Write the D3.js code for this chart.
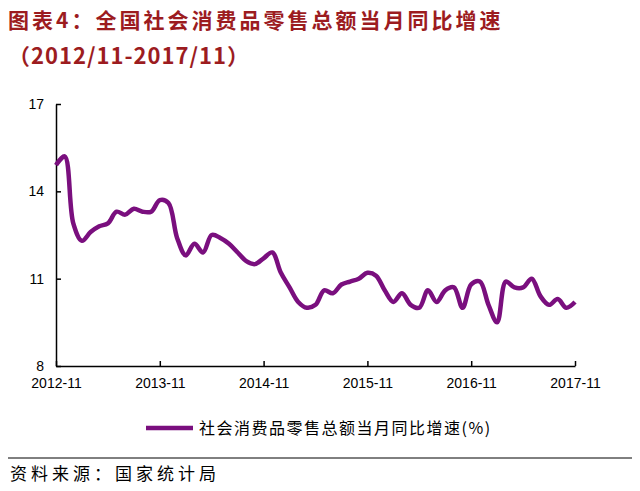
<!DOCTYPE html>
<html><head><meta charset="utf-8">
<script src="https://cdn.jsdelivr.net/npm/d3@7"></script>
<style>body{margin:0;background:#fff}svg{display:block}</style>
</head><body><svg id="c" width="640" height="491"></svg>
<script>
var months=["2012-11","2012-12","2013-01","2013-02","2013-03","2013-04","2013-05","2013-06","2013-07","2013-08","2013-09","2013-10","2013-11","2013-12",
"2014-01","2014-02","2014-03","2014-04","2014-05","2014-06","2014-07","2014-08","2014-09","2014-10","2014-11","2014-12",
"2015-01","2015-02","2015-03","2015-04","2015-05","2015-06","2015-07","2015-08","2015-09","2015-10","2015-11","2015-12",
"2016-01","2016-02","2016-03","2016-04","2016-05","2016-06","2016-07","2016-08","2016-09","2016-10","2016-11","2016-12",
"2017-01","2017-02","2017-03","2017-04","2017-05","2017-06","2017-07","2017-08","2017-09","2017-10","2017-11"]
var values=[14.9,15.2,12.9,12.3,12.6,12.8,12.9,13.3,13.2,13.4,13.3,13.3,13.7,13.6,
12.4,11.8,12.2,11.9,12.5,12.4,12.2,11.9,11.6,11.5,11.7,11.9,
11.2,10.7,10.2,10.0,10.1,10.6,10.5,10.8,10.9,11.0,11.2,11.1,
10.6,10.2,10.5,10.1,10.0,10.6,10.2,10.6,10.7,10.0,10.8,10.9,
10.1,9.5,10.9,10.7,10.7,11.0,10.4,10.1,10.3,10.0,10.2]
var yTicks=[8,11,14,17]
var xTicks=["2012-11","2013-11","2014-11","2015-11","2016-11","2017-11"]
var seriesName="社会消费品零售总额当月同比增速(%)"

var svg=d3.select("#c")
var red="#9c1c1f", purple="#7a0f7e"
svg.append("text").attr("x",8).attr("y",28).attr("fill",red).attr("font-size","21px").attr("font-weight","bold")
.attr("letter-spacing","3px").attr("font-family","Noto Sans CJK SC").text("图表4：全国社会消费品零售总额当月同比增速")
svg.append("text").attr("x",8).attr("y",64).attr("fill",red).attr("font-size","22px").attr("font-weight","bold")
.attr("letter-spacing","1px").attr("font-family","Noto Sans CJK SC").text("（2012/11-2017/11）")

var x=d3.scaleLinear().domain([0,months.length-1]).range([56,575])
var y=d3.scaleLinear().domain([8,17]).range([366,104])
function style(a){
  a.selectAll("text").attr("font-size","14px").attr("font-family","Arial, Liberation Sans").attr("fill","#000")
  a.selectAll("path,line").attr("stroke","#000").attr("stroke-width",1.5)
}
svg.append("g").attr("transform","translate(56,0)")
.call(d3.axisLeft(y).tickValues(yTicks).tickSize(-5).tickSizeOuter(0).tickPadding(12)).call(style)
svg.append("g").attr("transform","translate(0,366)")
.call(d3.axisBottom(x).tickValues(xTicks.map(t=>months.indexOf(t))).tickFormat(i=>months[i]).tickSize(-5).tickSizeOuter(0).tickPadding(12)).call(style)

var line=d3.line().x((d,i)=>x(i)).y(d=>y(d)).curve(d3.curveCatmullRom)
svg.append("path").datum(values).attr("d",line).attr("fill","none").attr("stroke",purple).attr("stroke-width",4.5)

svg.append("line").attr("x1",146).attr("x2",193).attr("y1",428).attr("y2",428).attr("stroke",purple).attr("stroke-width",4.5)
svg.append("text").attr("x",199).attr("y",434).attr("font-size","16px").attr("letter-spacing","1.5px").attr("font-family","Noto Sans CJK SC").text(seriesName)
svg.append("line").attr("x1",8).attr("x2",632).attr("y1",458).attr("y2",458).attr("stroke","#000").attr("stroke-width",1)
svg.append("text").attr("x",10).attr("y",480).attr("font-size","17px").attr("letter-spacing","4px").attr("font-family","Noto Sans CJK SC").text("资料来源：国家统计局")
</script></body></html>
